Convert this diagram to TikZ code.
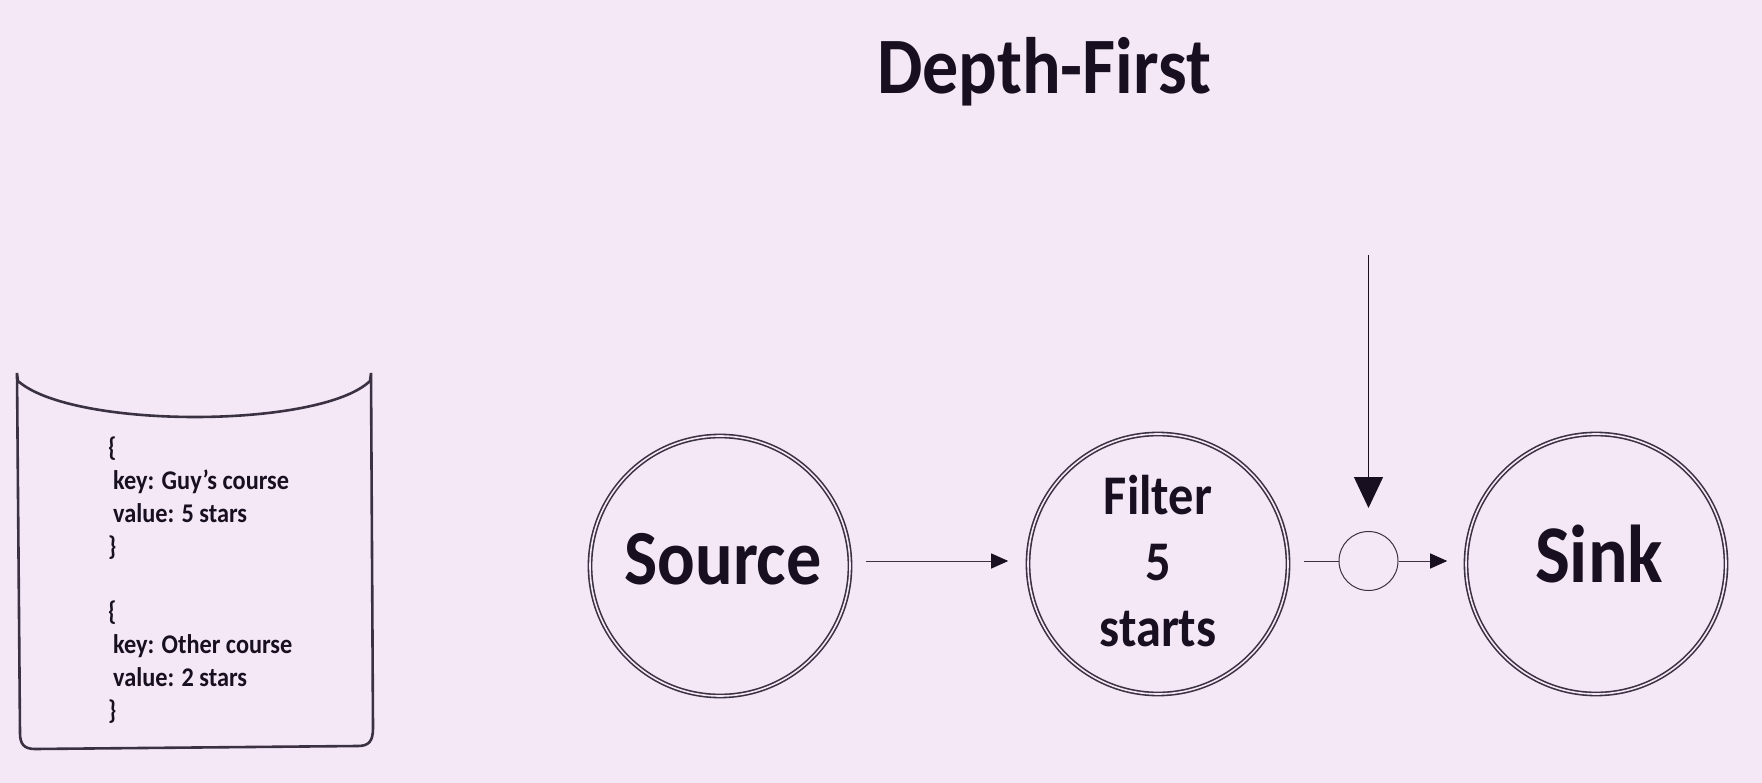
\documentclass[tikz,border=0pt]{standalone}
\usepackage{fontspec}
\setmainfont{Carlito}[FakeStretch=0.9]
\usetikzlibrary{positioning,arrows.meta}
\definecolor{pagebg}{HTML}{F4E8F6}
\definecolor{inkdark}{HTML}{181020}
\definecolor{inkline}{HTML}{3A3142}
\lineskiplimit=-20pt
\begin{document}
\begin{tikzpicture}[x=1pt,y=-1pt,node distance=438pt,
            ring node/.style={circle,draw=inkline,double=pagebg,double distance=1.6pt,line width=1.6pt,
                minimum size=260pt,inner sep=0pt,text=inkdark},
            main node/.style={ring node,text depth=14pt,font=\fontsize{78}{78}\selectfont\bfseries},
            small node/.style={ring node,align=center,font=\fontsize{56}{66}\selectfont\bfseries},
            record node/.style={anchor=north west,inner sep=0pt,align=left,text=inkdark,
                font=\fontsize{27}{33}\selectfont\bfseries},
            thin edge/.style={draw=inkline,line width=1pt},
            thin arrow/.style={thin edge,-{Triangle[length=17pt,width=15pt,color=inkdark]}}]

        % Page
        \fill[pagebg] (0,0) rectangle (1762,783);
        \useasboundingbox (0,0) rectangle (1762,783);

        \node[text=inkdark,font=\fontsize{80}{80}\selectfont\bfseries,anchor=base] (title) at (1044,94) {Depth-First};

        % Topic cylinder
        \draw[inkline,line width=2.6pt] (17,373) -- (18,381) .. controls (45,405) and (120,417) .. (195,417)
            .. controls (270,417) and (345,405) .. (370,381) -- (371,373) -- (373,728)
            .. controls (373,741) and (369,746) .. (358,746) -- (35,749)
            .. controls (24,749) and (20,744) .. (20,733) -- cycle;
        \node[record node] (record1) at (108,437) {\{\\\hspace*{5pt}key: Guy's course\\\hspace*{5pt}value: 5 stars\\\}};
        \node[record node] (record2) [below=40pt of record1.south west,anchor=north west] {\{\\\hspace*{5pt}key: Other course\\\hspace*{5pt}value: 2 stars\\\}};

        % Define vertices
        \node[main node] (source) at (720,566) {\hspace*{6pt}Source};
        \node[small node] (filter) [right of=source,yshift=2pt] {Filter\\5\\starts\rule[-6pt]{0pt}{0pt}};
        \node[main node,text depth=21pt,font=\fontsize{82}{82}\selectfont\bfseries] (sink) [right of=filter] {\hspace*{6pt}Sink};
        \node[circle,draw=inkline,line width=1pt,minimum size=59pt,inner sep=0pt] (gate) [right of=filter,node distance=210.5pt,yshift=3pt] {};
        \coordinate (event) at (gate.north |- 0,255);

        % Draw edges
        \draw[thin arrow,shorten <=15pt,shorten >=19pt] (source.east |- gate) -- (filter.west |- gate);
        \draw[thin edge,shorten <=15pt] (filter.east |- gate) -- (gate.west);
        \draw[thin arrow,shorten >=18pt] (gate.east) -- (sink.west |- gate);
        \draw[draw=inkdark,line width=1.4pt,shorten >=23pt,-{Triangle[length=31pt,width=29pt]}] (event) -- (gate.north);

\end{tikzpicture}
\end{document}
